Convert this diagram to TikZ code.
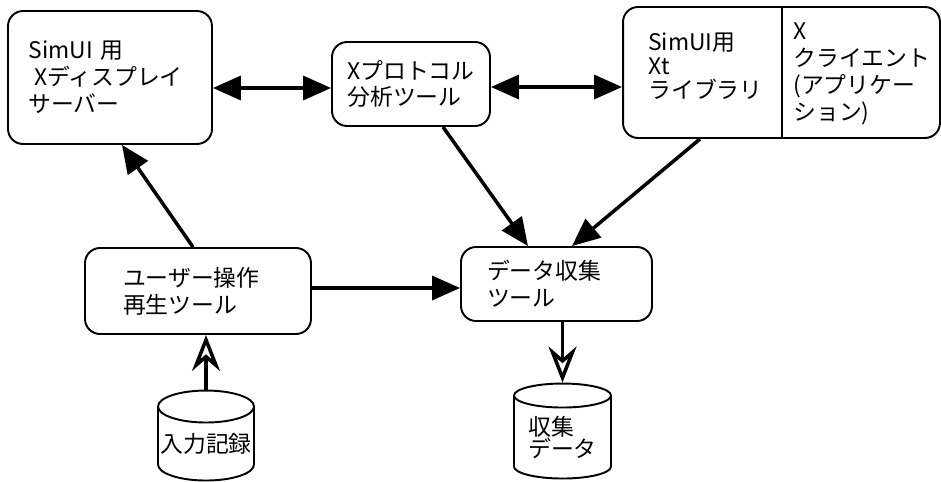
\documentclass[tikz,border=0pt]{standalone}
\usepackage{fontspec}
\setmainfont{Noto Sans CJK JP}
\usetikzlibrary{shapes.geometric}
\usetikzlibrary{arrows.meta}

\begin{document}
\begin{tikzpicture}[x=0.02cm, y=-0.02cm,
  every node/.style={font=\fontsize{13pt}{15.3pt}\selectfont},
  box/.style={draw, rectangle, rounded corners=0.3cm, line width=1.1pt, align=left},
  drum/.style={draw, cylinder, shape border rotate=90, aspect=0.35, line width=1.1pt, align=left, inner xsep=0pt},
  arr/.style={line width=2pt, -{Triangle[length=0.56cm, width=0.48cm]}},
  dbl/.style={line width=2pt, {Triangle[length=0.56cm, width=0.48cm]}-{Triangle[length=0.56cm, width=0.48cm]}},
  flow/.style={line width=2pt, -{Stealth[open, length=0.72cm, width=0.56cm, inset=0.24cm]}}]
\useasboundingbox (0,0) rectangle (941,481);

\node[box, minimum width=4.08cm, minimum height=2.66cm, text width=3.26cm] (simui) at (110,77.5) {SimUI 用\\\mbox{}\hspace{0.25em}Xディスプレイ\\サーバー};
\node[box, minimum width=3.16cm, minimum height=1.68cm] (proto) at (411,84) {Xプロトコル\\分析ツール};
\node[box, minimum width=6.34cm, minimum height=2.62cm] (client) at (781.5,72.5) {};
\coordinate (split) at (782,72.5);
\node[align=left, inner sep=0pt, anchor=west, font=\fontsize{13pt}{13.6pt}\selectfont] (xtlib) at (648,66) {SimUI用\\Xt\\ライブラリ};
\node[align=left, inner sep=0pt, anchor=west] (xclient) at (793,74) {X\\クライエント\\(アプリケー\\ション)};
\node[box, minimum width=4.52cm, minimum height=1.72cm, text width=3.0cm] (replay) at (198,291) {ユーザー操作\\再生ツール};
\node[box, minimum width=3.82cm, minimum height=1.48cm, text width=2.78cm] (collect) at (556.5,284) {データ収集\\ツール};
\node[drum, minimum width=1.92cm, minimum height=1.8cm] (record) at (206,444) {入力記録};
\node[drum, minimum width=1.94cm, minimum height=1.9cm, font=\fontsize{13pt}{12.5pt}\selectfont] (store) at (562.5,437.5) {収集\\データ};

\draw[line width=1.1pt] (client.north -| split) -- (client.south -| split);

\draw[dbl] (simui.east |- 0,88) -- (proto.west |- 0,88);
\draw[dbl] (proto.east |- 0,87) -- (client.west |- 0,87);
\draw[arr] ([xshift=0.64cm]proto.south) -- ([xshift=-0.57cm]collect.north);
\draw[arr] ([xshift=-1.63cm]client.south) -- ([xshift=0.31cm]collect.north);
\draw[arr] ([xshift=-0.1cm]replay.north) -- ([xshift=0.24cm]simui.south);
\draw[arr] (replay.east |- 0,288) -- (collect.west |- 0,288);
\draw[flow] (record.north) -- (record.north |- replay.south);
\draw[flow] (collect.south -| store.north) -- (store.north);
\end{tikzpicture}
\end{document}
